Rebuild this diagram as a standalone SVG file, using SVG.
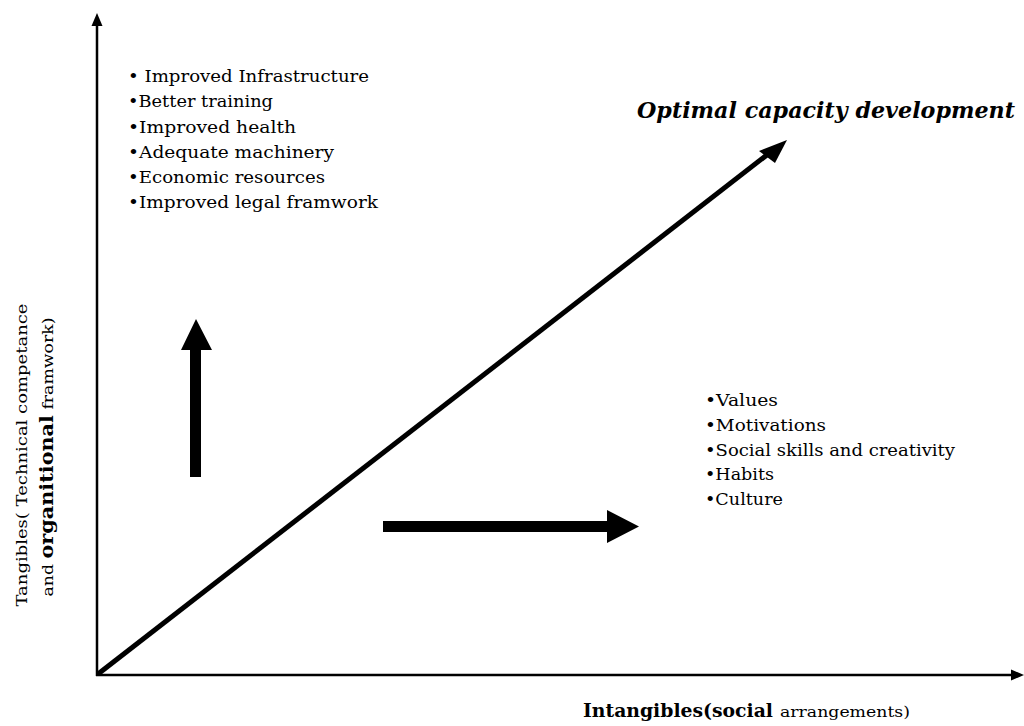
<svg xmlns="http://www.w3.org/2000/svg" width="1024" height="726" viewBox="0 0 1024 726">
<style>
text{font-family:"DejaVu Serif","Liberation Serif",serif;fill:#000}
.li{font-size:17px}
.ax{stroke:#000;stroke-width:2.5;fill:none}
</style>
<rect width="1024" height="726" fill="#fff"/>
<g id="connectors">
<line class="ax" x1="97" y1="676" x2="97" y2="24"/>
<polygon points="97,13 91.5,26 102.5,26"/>
<line class="ax" x1="96" y1="675" x2="1012" y2="675"/>
<polygon points="1024,675 1011,669.5 1011,680.5"/>
<line x1="98" y1="674" x2="772" y2="151" stroke="#000" stroke-width="5"/>
<polygon points="787,140 759,151 775,163"/>
<polygon points="190,477 201,477 201,350 212,350 196,319 181,350 190,350"/>
<polygon points="383,521 607,521 607,510 639,526.5 607,543 607,532 383,532"/>
</g>
<g id="tangibles-list">
<text class="li" x="128" y="82" textLength="241" lengthAdjust="spacingAndGlyphs">• Improved Infrastructure</text>
<text class="li" x="128" y="107" textLength="145" lengthAdjust="spacingAndGlyphs">•Better training</text>
<text class="li" x="128" y="133" textLength="168" lengthAdjust="spacingAndGlyphs">•Improved health</text>
<text class="li" x="128" y="158" textLength="206" lengthAdjust="spacingAndGlyphs">•Adequate machinery</text>
<text class="li" x="128" y="183" textLength="197" lengthAdjust="spacingAndGlyphs">•Economic resources</text>
<text class="li" x="128" y="208" textLength="250" lengthAdjust="spacingAndGlyphs">•Improved legal framwork</text>
</g>
<g id="intangibles-list">
<text class="li" x="705" y="406" textLength="73" lengthAdjust="spacingAndGlyphs">•Values</text>
<text class="li" x="705" y="431" textLength="121" lengthAdjust="spacingAndGlyphs">•Motivations</text>
<text class="li" x="705" y="456" textLength="250" lengthAdjust="spacingAndGlyphs">•Social skills and creativity</text>
<text class="li" x="705" y="480" textLength="69" lengthAdjust="spacingAndGlyphs">•Habits</text>
<text class="li" x="705" y="505" textLength="78" lengthAdjust="spacingAndGlyphs">•Culture</text>
</g>
<g id="optimal">
<text x="637" y="118" font-size="22" font-weight="bold" font-style="italic" textLength="378" lengthAdjust="spacingAndGlyphs">Optimal capacity development</text>
</g>
<g id="y-label">
<text transform="translate(27,455) rotate(-90)" text-anchor="middle" font-size="15" textLength="303" lengthAdjust="spacingAndGlyphs">Tangibles( Technical competance</text>
<text transform="translate(53,457) rotate(-90)" text-anchor="middle" font-size="15" textLength="279" lengthAdjust="spacingAndGlyphs">and <tspan font-weight="bold" font-size="18">organitional</tspan> framwork)</text>
</g>
<g id="x-label">
<text x="583" y="717" font-size="18" font-weight="bold" textLength="190" lengthAdjust="spacingAndGlyphs">Intangibles(social</text>
<text x="780" y="717" font-size="14" textLength="130" lengthAdjust="spacingAndGlyphs">arrangements)</text>
</g>
</svg>
